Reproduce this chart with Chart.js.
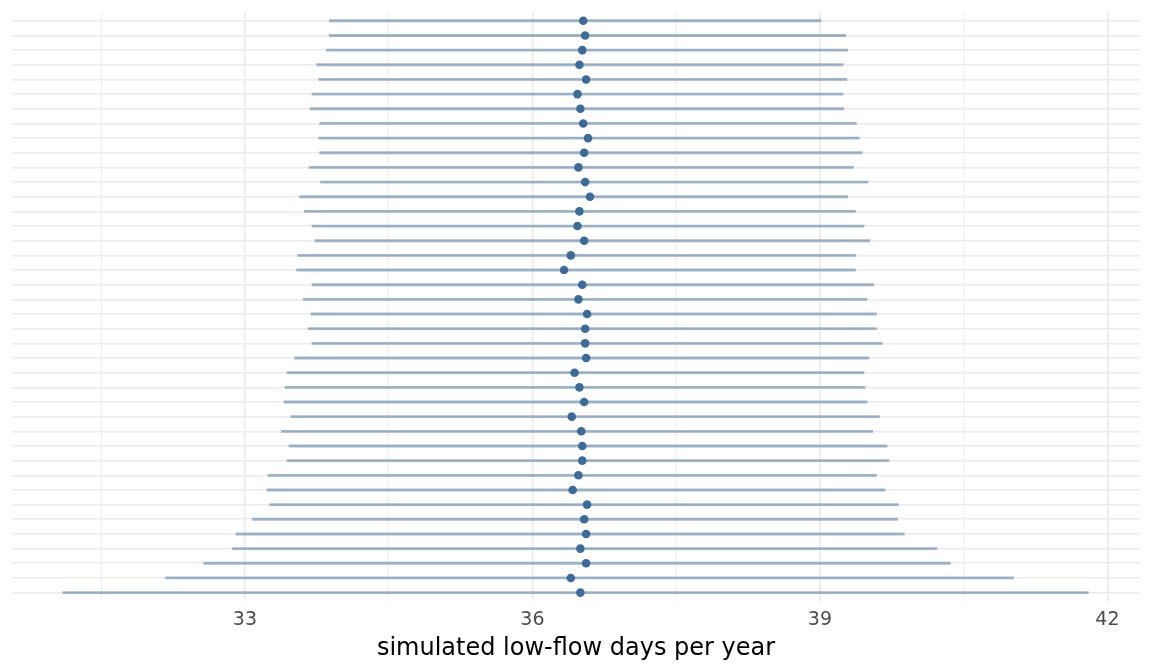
<!DOCTYPE html>
<html>
<head>
<meta charset="utf-8">
<script src="https://cdn.jsdelivr.net/npm/chart.js@4/dist/chart.umd.min.js"></script>
<style>
  html, body { margin: 0; padding: 0; background: #ffffff; }
  #wrap { width: 1152px; height: 672px; }
</style>
</head>
<body>
<div id="wrap"><canvas id="intervalChart"></canvas></div>
<script>
// Interval estimates, one row per simulation (top to bottom)
const lowerValues = [
    33.88, 33.88, 33.85, 33.75, 33.77, 33.70, 33.68, 33.78, 33.77, 33.78,
    33.67, 33.79, 33.57, 33.62, 33.70, 33.73, 33.55, 33.54, 33.70, 33.61,
    33.69, 33.66, 33.70, 33.52, 33.44, 33.42, 33.41, 33.48, 33.38, 33.46,
    33.44, 33.24, 33.23, 33.26, 33.08, 32.91, 32.87, 32.57, 32.17, 31.10
];
const pointValues = [
    36.53, 36.55, 36.52, 36.49, 36.56, 36.47, 36.50, 36.53, 36.58, 36.54,
    36.48, 36.55, 36.60, 36.49, 36.47, 36.54, 36.40, 36.33, 36.52, 36.48,
    36.57, 36.55, 36.55, 36.56, 36.44, 36.49, 36.54, 36.41, 36.51, 36.52,
    36.52, 36.48, 36.42, 36.57, 36.54, 36.56, 36.50, 36.56, 36.40, 36.50
];
const upperValues = [
    39.01, 39.27, 39.29, 39.24, 39.28, 39.24, 39.25, 39.38, 39.41, 39.44,
    39.35, 39.50, 39.29, 39.37, 39.46, 39.52, 39.37, 39.37, 39.56, 39.49,
    39.59, 39.59, 39.65, 39.51, 39.46, 39.47, 39.49, 39.62, 39.55, 39.70,
    39.72, 39.59, 39.68, 39.82, 39.81, 39.88, 40.22, 40.36, 41.02, 41.80
];
const xTickValues = [31.5, 33, 34.5, 36, 37.5, 39, 40.5, 42];
const xLabelValues = [33, 36, 39, 42];
const axisTitle = 'simulated low-flow days per year';

const rowIndex = pointValues.map((_, i) => i);

document.addEventListener('DOMContentLoaded', function() {
    createIntervalChart();
});

function createIntervalChart() {
    const ctx = document.getElementById('intervalChart');

    new Chart(ctx, {
        type: 'bar',
        data: {
            datasets: [
                {
                    type: 'scatter',
                    label: 'estimate',
                    data: rowIndex.map(i => ({ x: pointValues[i], y: i })),
                    backgroundColor: '#3d6b99',
                    borderWidth: 0,
                    pointRadius: 4.3,
                    order: 0
                },
                {
                    type: 'bar',
                    label: 'interval',
                    data: rowIndex.map(i => ({ x: [lowerValues[i], upperValues[i]], y: i })),
                    backgroundColor: 'rgba(54, 100, 139, 0.46)',
                    borderWidth: 0,
                    barThickness: 2.2,
                    borderSkipped: false,
                    order: 1
                }
            ]
        },
        options: {
            indexAxis: 'y',
            responsive: true,
            maintainAspectRatio: false,
            animation: false,
            layout: {
                padding: { left: 12, right: 12, top: 12, bottom: 4 }
            },
            plugins: {
                legend: { display: false },
                tooltip: { enabled: false }
            },
            scales: {
                x: {
                    type: 'linear',
                    min: 30.569,
                    max: 42.34,
                    afterBuildTicks: scale => {
                        scale.ticks = xTickValues.map(v => ({ value: v }));
                    },
                    border: { display: false },
                    grid: {
                        drawTicks: false,
                        color: '#ebebeb',
                        lineWidth: c => xLabelValues.includes(c.tick.value) ? 1.6 : 0.8
                    },
                    ticks: {
                        padding: 7,
                        color: '#4d4d4d',
                        font: { family: 'DejaVu Sans', size: 19 },
                        autoSkip: false,
                        maxRotation: 0,
                        callback: v => xLabelValues.includes(v) ? String(v) : ''
                    },
                    title: {
                        display: true,
                        text: axisTitle,
                        color: '#000000',
                        font: { family: 'DejaVu Sans', size: 24 },
                        padding: { top: -4, bottom: 5 }
                    }
                },
                y: {
                    type: 'linear',
                    reverse: true,
                    offset: false,
                    min: -0.6,
                    max: 39.6,
                    afterBuildTicks: scale => {
                        scale.ticks = rowIndex.map(v => ({ value: v }));
                    },
                    border: { display: false },
                    grid: {
                        offset: false,
                        drawTicks: false,
                        color: '#ebebeb',
                        lineWidth: 1.6
                    },
                    ticks: { display: false }
                }
            }
        }
    });
}
</script>
</body>
</html>
